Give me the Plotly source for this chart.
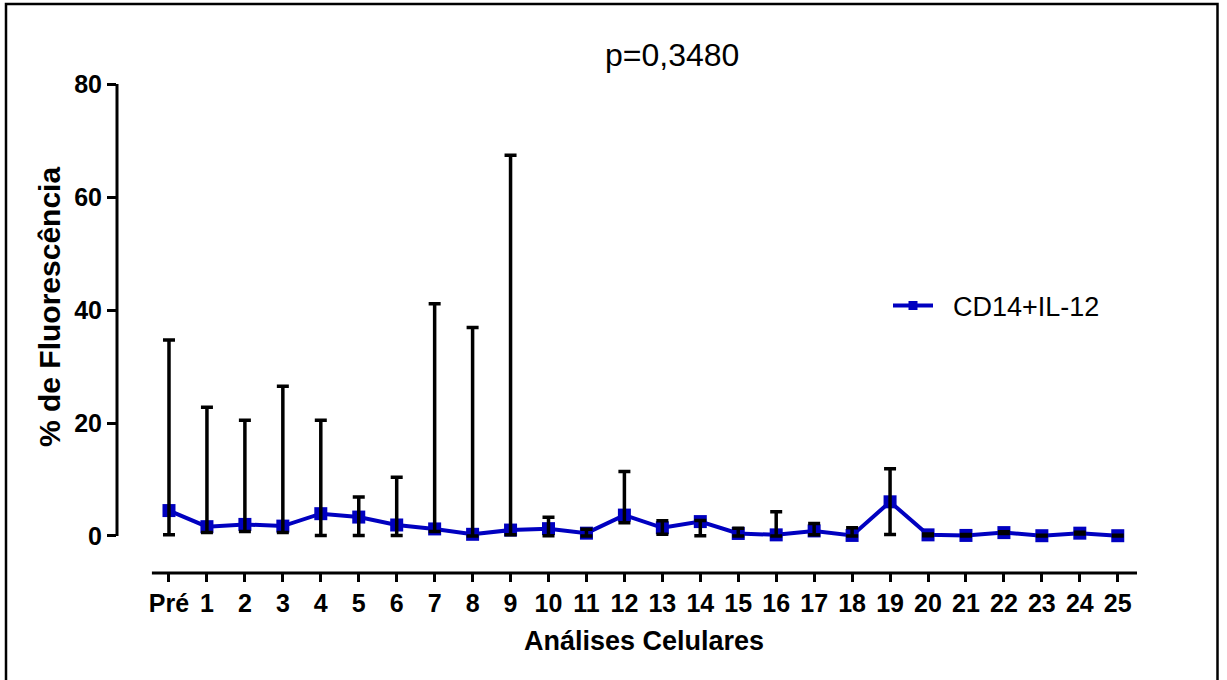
import plotly.graph_objects as go

# Análises celulares: média e limites (inferior/superior) de CD14+IL-12
categories = ["Pré"] + [str(i) for i in range(1, 26)]
means = [4.5, 1.65, 2.05, 1.75, 3.95, 3.35, 1.95, 1.25, 0.3, 1.05,
         1.3, 0.5, 3.7, 1.45, 2.55, 0.45, 0.2, 0.9, 0.1, 6.05,
         0.2, 0.1, 0.6, 0.05, 0.5, 0.05]
upper = [34.7, 22.8, 20.5, 26.5, 20.5, 6.9, 10.4, 41.1, 36.9, 67.4,
         3.3, 1.2, 11.4, 2.7, 2.75, 1.35, 4.3, 2.2, 1.45, 11.9,
         0.35, 0.25, 0.75, 0.15, 0.65, 0.15]
lower = [0.2, 0.6, 0.8, 0.6, 0.1, 0.1, 0.1, 0.8, 0.0, 0.2,
         0.05, 0.0, 2.35, 0.3, 0.05, 0.0, 0.0, 0.2, 0.0, 0.25,
         0.05, 0.0, 0.45, 0.0, 0.35, 0.0]
y_ticks = [0, 20, 40, 60, 80]

xpos = list(range(len(categories)))
err_plus = [u - m for u, m in zip(upper, means)]
err_minus = [m - l for m, l in zip(means, lower)]

BLUE = "#0000C0"
FONT = "Arial, Liberation Sans, sans-serif"

W, H = 1227, 680
L, R, T, B = 117, 90, 80, 107
PW, PH = W - L - R, H - T - B


def px(x):
    return (x - L) / PW


def py(y):
    return (H - B - y) / PH


fig = go.Figure()
fig.add_trace(go.Scatter(
    x=xpos, y=means, mode="lines+markers", showlegend=False,
    line=dict(color=BLUE, width=4),
    marker=dict(color=BLUE, symbol="square", size=13),
))
# error bars drawn above the line and markers
fig.add_trace(go.Scatter(
    x=xpos, y=means, mode="markers", showlegend=False,
    marker=dict(color="rgba(0,0,0,0)", size=1),
    error_y=dict(type="data", symmetric=False, array=err_plus,
                 arrayminus=err_minus, color="black", thickness=3.5, width=6),
    hoverinfo="skip",
))
# legend entry with a smaller symbol
fig.add_trace(go.Scatter(
    x=[None], y=[None], mode="lines+markers",
    name="\u00a0\u00a0CD14+IL-12",
    line=dict(color=BLUE, width=4),
    marker=dict(color=BLUE, symbol="square", size=9),
))

fig.update_xaxes(
    range=[-1.37, 25.507], tickmode="array", tickvals=xpos, ticktext=categories,
    showgrid=False, zeroline=False, showline=False,
    ticks="outside", ticklen=8, tickwidth=3, tickcolor="black",
    tickfont=dict(family=FONT, size=25, color="black", weight="bold"),
)
fig.update_yaxes(
    range=[-6.55, 80.71], tickvals=y_ticks,
    showgrid=False, zeroline=False, showline=False,
    ticks="outside", ticklen=9, tickwidth=3, tickcolor="black",
    tickfont=dict(family=FONT, size=25, color="black", weight="bold"),
)

shapes = [
    # y axis spine (0 to 80 only)
    dict(type="line", xref="paper", yref="y", x0=0, x1=0, y0=0, y1=80,
         line=dict(color="black", width=3)),
    # x axis spine
    dict(type="line", xref="x", yref="paper", x0=-0.45, x1=25.507, y0=0, y1=0,
         line=dict(color="black", width=3)),
    # outer frame
    dict(type="rect", xref="paper", yref="paper",
         x0=px(6), x1=px(1217.5), y0=py(4), y1=py(700),
         line=dict(color="black", width=2.5), fillcolor="rgba(0,0,0,0)"),
]

annotations = [
    dict(text="p=0,3480", xref="paper", yref="paper", x=px(672), y=py(55),
         showarrow=False, xanchor="center", yanchor="middle",
         font=dict(family=FONT, size=32, color="black")),
    dict(text="<b>Análises Celulares</b>", xref="paper", yref="paper",
         x=px(644), y=py(641), showarrow=False, xanchor="center", yanchor="middle",
         font=dict(family=FONT, size=27, color="black")),
    dict(text="<b>% de Fluorescência</b>", xref="paper", yref="paper",
         x=px(49), y=py(307), showarrow=False, xanchor="center", yanchor="middle",
         textangle=-90, font=dict(family=FONT, size=30, color="black")),
]

fig.update_layout(
    width=W, height=H,
    margin=dict(l=L, r=R, t=T, b=B, pad=0),
    paper_bgcolor="white", plot_bgcolor="white",
    shapes=shapes, annotations=annotations,
    showlegend=True,
    legend=dict(x=px(888), y=py(306), xanchor="left", yanchor="middle",
                bgcolor="rgba(0,0,0,0)", borderwidth=0, itemwidth=40,
                font=dict(family=FONT, size=27, color="black")),
)

fig.write_html("out.html")
